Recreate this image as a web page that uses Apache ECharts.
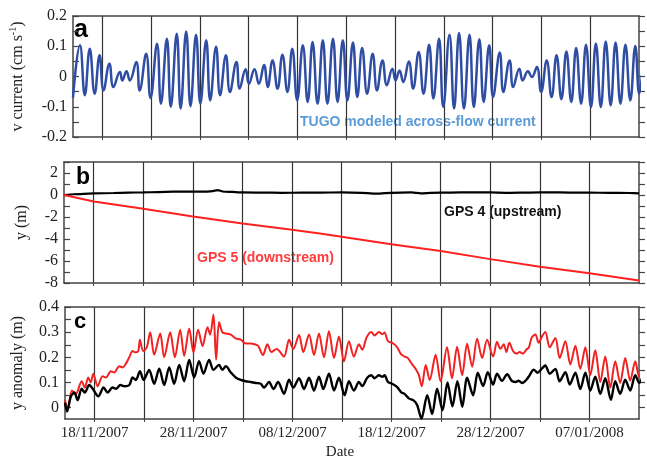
<!DOCTYPE html>
<html><head><meta charset="utf-8">
<script src="https://cdn.jsdelivr.net/npm/echarts@6/dist/echarts.min.js"></script>
<style>html,body{margin:0;padding:0;background:#fff}#c{width:647px;height:461px}</style>
</head><body><div id="c"></div>
<script>
// x values are days since 15/11/2007
const xTickDays = [3,8,13,18,23,28,33,38,43,48,53];
const xLabelDays = [3,13,23,33,43,53];
const xLabelText = ['18/11/2007','28/11/2007','08/12/2007','18/12/2007','28/12/2007','07/01/2008'];

const yLabelsA = [-0.2,-0.1,0,0.1,0.2];
const yTicksA = [-0.2,-0.15,-0.1,-0.05,0,0.05,0.1,0.15,0.2];
const yLabelsB = [-8,-6,-4,-2,0,2];
const yTicksB = [-8,-7,-6,-5,-4,-3,-2,-1,0,1,2,3];
const yLabelsC = [0,0.1,0.2,0.3,0.4];
const yTicksC = [0,0.05,0.1,0.15,0.2,0.25,0.3,0.35,0.4];

// Panel a: TUGO modelled across-flow current (extrema)
const tugoT = [0,0.71,1.21,1.72,2.22,2.72,3.13,3.73,4.14,4.81,5.05,5.48,5.82,6.49,6.83,7.5,7.94,8.61,9.01,9.62,10.02,10.63,11.03,11.6,12.04,12.61,13.05,13.65,14.06,14.66,15.07,15.67,16.08,16.75,17.08,17.69,18.03,18.6,19.04,19.58,
19.95,20.45,20.96,21.46,21.97,22.47,22.97,23.55,24.05,24.55,25.06,25.6,26.07,26.64,27.11,27.65,28.12,28.69,29.13,29.63,30.14,30.71,31.15,31.72,32.16,32.73,33.06,33.46,33.84,34.41,34.85,35.42,35.92,36.49,36.93,37.51,37.94,38.58,
39.05,39.56,40.06,40.63,41.07,41.64,42.08,42.65,43.05,43.73,44.1,44.74,45.11,45.74,46.08,46.62,47.02,47.53,47.97,48.54,49.04,49.55,50.05,50.56,51.06,51.56,52.07,52.57,53.08,53.58,54.09,54.59,55.1,55.6,56.1,56.61,57.11,57.62,58.02,58.5];
const tugoV = [-0.07,0.103,-0.062,0.092,-0.057,0.07,-0.046,0.042,-0.035,0.015,-0.013,0.017,-0.013,0.048,-0.046,0.075,-0.071,0.108,-0.09,0.125,-0.1,0.141,-0.106,0.149,-0.098,0.138,-0.09,0.12,-0.079,0.098,-0.062,0.07,-0.051,0.048,-0.04,0.024,-0.024,0.024,-0.024,0.038,
-0.035,0.053,-0.04,0.072,-0.051,0.092,-0.079,0.103,-0.084,0.114,-0.09,0.12,-0.09,0.125,-0.084,0.12,-0.079,0.112,-0.068,0.094,-0.057,0.075,-0.046,0.053,-0.029,0.026,-0.013,0.02,-0.018,0.05,-0.04,0.081,-0.057,0.105,-0.073,0.125,-0.101,0.138,
-0.106,0.144,-0.106,0.138,-0.101,0.123,-0.084,0.103,-0.068,0.079,-0.051,0.053,-0.035,0.026,-0.013,0.017,-0.002,0.031,-0.051,0.053,-0.068,0.07,-0.075,0.083,-0.084,0.094,-0.09,0.105,-0.101,0.109,-0.101,0.116,-0.095,0.112,-0.09,0.105,-0.079,0.101,-0.057,0.08];

// Panel b: y displacement (m)
const gps4T = [0,1,2,3,5,6.5,8,9.5,11,12.5,14,15,15.5,16,17,18,20,22,24,26,28,30,31.5,33,35,36,37,39,41,43,45,47,49,51,53,55,57,58];
const gps4Y = [0,0.07,0.11,0.14,0.18,0.22,0.23,0.27,0.3,0.32,0.3,0.36,0.45,0.32,0.28,0.23,0.22,0.2,0.21,0.22,0.23,0.2,0.12,0.2,0.23,0.15,0.2,0.22,0.24,0.23,0.2,0.22,0.24,0.22,0.21,0.2,0.18,0.15];
const gps5T = [0,3,8,13,18,23,25.8,28,33,38,43,48,53,58];
const gps5Y = [0,-0.6,-1.26,-1.95,-2.6,-3.15,-3.5,-3.8,-4.48,-5.1,-5.83,-6.52,-7.12,-7.78];

// Panel c: y anomaly (m)
const anom5T = [0,0.27,0.7,1.1,1.68,2.0,2.35,2.6,2.86,3.3,3.8,4.14,4.64,4.98,5.48,5.82,6.16,6.49,6.83,7.06,7.4,7.57,7.9,8.27,8.61,9.01,9.62,10.02,10.63,11.1,11.64,12.04,12.55,12.98,13.45,13.9,14.4,14.66,15.0,15.27,15.57,15.9,16.25,16.75,17.25,17.76,18.26,18.77,19.17,19.51,
20.0,20.45,20.85,21.39,22.13,22.64,23.07,23.65,24.08,24.66,25.16,25.66,26.17,26.67,27.18,27.68,28.19,28.69,29.19,29.7,30.04,30.47,30.94,31.28,31.72,32.06,32.29,32.63,33.06,33.57,33.91,34.31,34.65,35.08,35.42,35.75,36.05,36.45,36.85,37.45,37.95,
38.6,39.1,39.62,40.13,40.63,41.14,41.64,42.15,42.65,43.26,43.65,43.99,44.33,44.6,44.9,45.27,45.61,45.94,46.28,46.61,46.88,47.16,47.53,47.86,48.2,48.53,48.98,49.55,49.98,50.56,51.06,51.57,52.07,52.58,53.08,53.58,54.09,54.59,55.1,55.6,56.1,56.61,57.11,57.62,58.02,58.5];
const anom5V = [0.031,-0.01,0.068,0.055,0.105,0.08,0.12,0.1,0.135,0.085,0.125,0.12,0.145,0.14,0.165,0.16,0.175,0.2,0.225,0.22,0.225,0.27,0.225,0.24,0.3,0.21,0.295,0.2,0.3,0.2,0.31,0.205,0.315,0.22,0.31,0.245,0.32,0.29,0.37,0.19,0.34,0.3,0.295,0.29,0.275,0.27,0.255,0.255,0.252,0.246,
0.209,0.252,0.221,0.233,0.203,0.27,0.233,0.289,0.221,0.291,0.209,0.295,0.2,0.304,0.197,0.283,0.184,0.264,0.203,0.252,0.23,0.279,0.301,0.287,0.301,0.292,0.299,0.264,0.258,0.24,0.215,0.203,0.197,0.172,0.155,0.13,0.085,0.17,0.11,0.21,0.105,
0.24,0.117,0.242,0.129,0.254,0.163,0.274,0.197,0.27,0.203,0.262,0.234,0.252,0.221,0.258,0.225,0.215,0.221,0.215,0.23,0.24,0.279,0.291,0.258,0.283,0.301,0.24,0.277,0.197,0.264,0.172,0.246,0.154,0.24,0.129,0.228,0.102,0.203,0.08,0.184,0.098,0.197,0.107,0.184,0.123,0.172];
const anom4T = [0,0.2,0.6,0.94,1.28,1.68,2.0,2.45,2.8,3.36,3.9,4.3,4.8,5.15,5.6,6.0,6.5,6.83,7.16,7.57,7.94,8.5,9.01,9.52,10.02,10.53,11.03,11.54,12.04,12.55,13.05,13.55,13.99,14.56,15.0,15.57,15.9,16.25,16.75,17.25,17.76,18.26,18.77,19.27,19.78,
20.11,20.62,21.06,21.53,22.13,22.64,23.07,23.65,24.15,24.66,25.16,25.66,26.1,26.67,27.18,27.68,28.25,28.69,29.19,29.7,30.04,30.54,30.94,31.28,31.72,32.06,32.29,32.63,33.06,33.57,33.97,34.31,34.74,35.25,35.59,36.02,36.6,37.1,37.6,38.15,
38.65,39.15,39.65,40.15,40.63,41.24,41.71,42.25,42.72,43.26,43.65,44.16,44.67,45.17,45.51,45.85,46.18,46.62,46.95,47.36,47.76,48.2,48.53,48.98,49.55,49.98,50.56,51.0,51.57,52.07,52.58,53.08,53.58,54.09,54.59,55.16,55.6,56.1,56.61,57.11,57.62,58.02,58.5];
const anom4V = [0.02,-0.015,0.045,0.06,0.03,0.075,0.06,0.09,0.075,0.045,0.08,0.06,0.08,0.075,0.09,0.085,0.09,0.12,0.11,0.145,0.11,0.15,0.095,0.155,0.09,0.16,0.095,0.17,0.105,0.19,0.12,0.185,0.135,0.19,0.15,0.17,0.15,0.165,0.14,0.12,0.11,0.105,0.102,0.098,0.095,
0.08,0.102,0.074,0.102,0.055,0.111,0.08,0.117,0.074,0.119,0.068,0.123,0.074,0.135,0.068,0.119,0.049,0.105,0.068,0.102,0.086,0.119,0.129,0.117,0.129,0.123,0.129,0.102,0.095,0.082,0.061,0.055,0.037,0.028,0.01,-0.043,0.05,-0.025,0.075,-0.01,
0.1,0.005,0.105,0.003,0.119,0.049,0.139,0.086,0.141,0.092,0.135,0.107,0.133,0.105,0.102,0.107,0.098,0.111,0.129,0.151,0.139,0.156,0.168,0.135,0.154,0.105,0.141,0.092,0.139,0.074,0.139,0.068,0.123,0.055,0.117,0.031,0.105,0.055,0.111,0.068,0.129,0.098,0.141];

const zip = (t, v) => t.map((x, i) => [x, v[i]]);

const serif = 'Liberation Serif';
const axisCol = '#444';
const grids = [
  {left: 64, right: 8, top: 16, height: 121},
  {left: 64, right: 8, top: 162, height: 121},
  {left: 64, right: 8, top: 307, height: 120}
];

function xBottom(g, showLabels) {
  return {
    type: 'value', gridIndex: g, min: 0, max: 58, position: 'bottom',
    axisLine: {show: true, onZero: false, lineStyle: {color: axisCol, width: 1.5}},
    axisTick: {show: true, customValues: xTickDays, length: 3, lineStyle: {color: axisCol}},
    splitLine: {show: true, lineStyle: {color: '#333', width: 1.2}},
    axisLabel: {show: showLabels, customValues: xLabelDays,
      formatter: v => { const i = xLabelDays.indexOf(v); return i >= 0 ? xLabelText[i] : ''; },
      fontFamily: serif, fontSize: 15, color: '#222', margin: 7},
    name: showLabels ? 'Date' : '', nameLocation: 'middle', nameGap: 26,
    nameTextStyle: {fontFamily: serif, fontSize: 15, color: '#222', padding: [0, 24, 0, 0]}
  };
}
function xTop(g) {
  return {
    type: 'value', gridIndex: g, min: 0, max: 58, position: 'top',
    axisLine: {show: true, onZero: false, lineStyle: {color: axisCol, width: 1.5}},
    axisTick: {show: false}, axisLabel: {show: false}, splitLine: {show: false}
  };
}
function yLeft(g, min, max, labels, ticks, name, gap) {
  return {
    type: 'value', gridIndex: g, min: min, max: max, position: 'left',
    axisLine: {show: true, onZero: false, lineStyle: {color: axisCol, width: 1.5}},
    axisTick: {show: true, inside: true, length: 6, customValues: ticks, lineStyle: {color: axisCol, width: 1.2}},
    axisLabel: {customValues: labels, formatter: v => String(v), fontFamily: serif, fontSize: 16, color: '#222', margin: 6},
    splitLine: {show: false},
    name: name, nameLocation: 'middle', nameGap: gap,
    nameTextStyle: {fontFamily: serif, fontSize: 16, color: '#222', lineHeight: 20,
      rich: {sup: {fontFamily: serif, fontSize: 10, color: '#222', verticalAlign: 'top', lineHeight: 20}}}
  };
}
function yRight(g, min, max, ticks) {
  return {
    type: 'value', gridIndex: g, min: min, max: max, position: 'right',
    axisLine: {show: true, onZero: false, lineStyle: {color: axisCol, width: 1.5}},
    axisTick: {show: true, inside: false, length: 6, customValues: ticks, lineStyle: {color: axisCol, width: 1.2}},
    axisLabel: {show: false}, splitLine: {show: false}
  };
}

const option = {
  animation: false,
  backgroundColor: '#fff',
  grid: grids,
  xAxis: [xBottom(0, false), xTop(0), xBottom(1, false), xTop(1), xBottom(2, true), xTop(2)],
  yAxis: [
    yLeft(0, -0.2, 0.2, yLabelsA, yTicksA, 'v current (cm s{sup|-1})', 45),
    yRight(0, -0.2, 0.2, yTicksA),
    yLeft(1, -8, 3, yLabelsB, yTicksB, 'y (m)', 32),
    yRight(1, -8, 3, yTicksB),
    yLeft(2, -0.045, 0.4, yLabelsC, yTicksC, 'y anomaly (m)', 37),
    yRight(2, -0.045, 0.4, yTicksC)
  ],
  series: [
    {type: 'line', name: 'TUGO', xAxisIndex: 0, yAxisIndex: 0, data: zip(tugoT, tugoV), smooth: 0.45,
      showSymbol: false, clip: false, lineStyle: {color: '#2f4ea3', width: 2.5}},
    {type: 'line', name: 'GPS 4', xAxisIndex: 2, yAxisIndex: 2, data: zip(gps4T, gps4Y), smooth: 0.2,
      showSymbol: false, lineStyle: {color: '#000', width: 2.2}},
    {type: 'line', name: 'GPS 5', xAxisIndex: 2, yAxisIndex: 2, data: zip(gps5T, gps5Y),
      showSymbol: false, lineStyle: {color: '#ff2020', width: 2}},
    {type: 'line', name: 'GPS 5 anomaly', xAxisIndex: 4, yAxisIndex: 4, data: zip(anom5T, anom5V), smooth: 0.3,
      showSymbol: false, clip: false, lineStyle: {color: '#f22222', width: 2}},
    {type: 'line', name: 'GPS 4 anomaly', xAxisIndex: 4, yAxisIndex: 4, data: zip(anom4T, anom4V), smooth: 0.3,
      showSymbol: false, clip: false, lineStyle: {color: '#000', width: 2.4}}
  ],
  graphic: [
    {type: 'text', x: 74, y: 30, style: {text: 'a', font: 'bold 25px "Liberation Sans"', fill: '#000', verticalAlign: 'middle'}},
    {type: 'text', x: 76, y: 178, style: {text: 'b', font: 'bold 23px "Liberation Sans"', fill: '#000', verticalAlign: 'middle'}},
    {type: 'text', x: 74, y: 322, style: {text: 'c', font: 'bold 22px "Liberation Sans"', fill: '#000', verticalAlign: 'middle'}},
    {type: 'text', x: 300, y: 122, style: {text: 'TUGO modeled across-flow current', font: 'bold 14px "Liberation Sans"', fill: '#5b9bd8', verticalAlign: 'middle'}},
    {type: 'text', x: 444, y: 212, style: {text: 'GPS 4 (upstream)', font: 'bold 14px "Liberation Sans"', fill: '#111', verticalAlign: 'middle'}},
    {type: 'text', x: 197, y: 258, style: {text: 'GPS 5 (downstream)', font: 'bold 14px "Liberation Sans"', fill: '#ff3b3b', verticalAlign: 'middle'}}
  ]
};
const chart = echarts.init(document.getElementById('c'), null, {renderer: 'canvas'});
chart.setOption(option);
</script></body></html>
